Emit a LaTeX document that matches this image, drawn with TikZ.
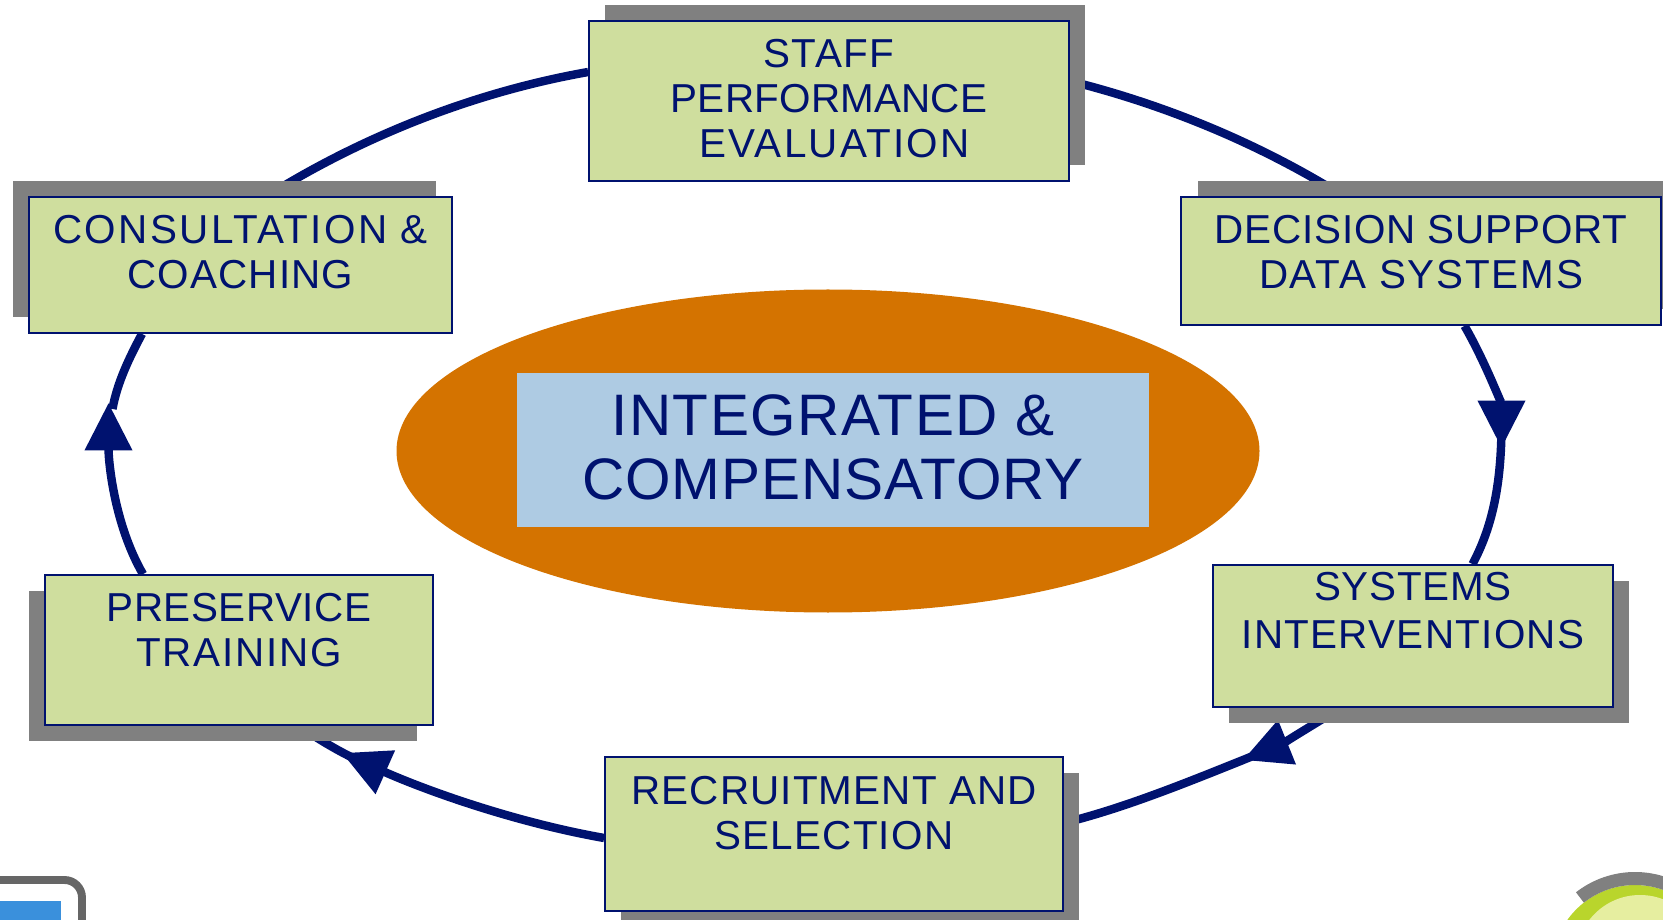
\documentclass[tikz,border=0pt]{standalone}
\usepackage{fontspec}
\setmainfont{Liberation Sans}
\usetikzlibrary{arrows.meta,shadows,backgrounds,shapes.geometric}
\definecolor{navyline}{HTML}{00126F}
\definecolor{boxgreen}{HTML}{CFDE9E}
\definecolor{ovalorange}{HTML}{D47300}
\definecolor{paleblue}{HTML}{AECBE3}
\definecolor{cornerblue}{HTML}{3A90DC}
\definecolor{cornergreen}{HTML}{B9D52C}
\definecolor{cornerlight}{HTML}{E6EEA0}
\newcommand{\spaced}[2]{{\addfontfeatures{LetterSpace=#1}#2}}
\tikzset{
  stagebox/.style n args={4}{draw=navyline,line width=1pt,fill=boxgreen,text=navyline,
    align=center,font=\fontsize{23}{25.5}\selectfont,inner sep=0pt,
    minimum width=#1cm,minimum height=#2cm,
    general shadow={fill=gray,draw=none,shadow xshift=#3cm,shadow yshift=#4cm}},
  ring/.style={draw=navyline,line width=4.8pt,looseness=.85},
  ringtip/.style={ring,-{Triangle[length=27pt,width=26pt]}},
  ringback/.style={ring,shorten <=-14pt}
}
\begin{document}
\begin{tikzpicture}
\useasboundingbox (0,0) rectangle (33.26,18.38);
\node[ellipse,fill=ovalorange,minimum width=17.26cm,minimum height=6.46cm,inner sep=0pt] (oval) at (16.56,9.36) {};
\node[fill=paleblue,text=navyline,align=center,font=\fontsize{33.3}{36.5}\selectfont,text depth=3pt,
  minimum width=12.64cm,minimum height=3.08cm,inner sep=0pt] (centre) at (16.66,9.38) {\spaced{2.6}{INTEGRATED \&}\\\spaced{1.7}{COMPENSATORY}};
\node[stagebox={9.6}{3.2}{.32}{.32},text depth=3.2pt] (staff) at (16.58,16.36) {\spaced{3.7}{STAFF}\\\spaced{.5}{PERFORMANCE}\\\ \spaced{5.5}{EVALUATION}};
\node[stagebox={9.6}{2.56}{.34}{.32},text depth=10.4pt] (decision) at (28.42,13.16) {\spaced{2}{DECISION SUPPORT}\\\spaced{4.4}{DATA SYSTEMS}};
\node[stagebox={8.46}{2.72}{-.32}{.32},text depth=14.8pt] (consult) at (4.81,13.08) {\spaced{6}{CONSULTATION \&}\\\spaced{2.8}{COACHING}};
\node[stagebox={7.76}{3.0}{-.32}{-.32},text depth=22.8pt] (preservice) at (4.78,5.38) {\spaced{1.3}{PRESERVICE}\\\spaced{4.2}{TRAINING}};
\node[stagebox={9.16}{3.08}{.32}{-.32},text depth=24pt] (recruit) at (16.68,1.70) {\spaced{2.8}{RECRUITMENT AND}\\\spaced{2.9}{SELECTION}};
\node[stagebox={8.0}{2.84}{.32}{-.32},text depth=29pt] (systems) at (28.26,5.66) {\spaced{1.9}{SYSTEMS}\\[1.5pt]\spaced{3.2}{INTERVENTIONS}};
\coordinate (tipright) at (30.03,9.42);
\coordinate (tiplow) at (24.86,3.18);
\coordinate (tipwest) at (6.84,3.32);
\coordinate (tipleft) at (2.17,10.32);
\coordinate (leftback) at (2.25,10.2);
\begin{scope}[on background layer]
\draw[ring] ([xshift=.53cm]consult.north) to[out=32,in=190] ([yshift=.58cm]staff.west);
\draw[ring] ([yshift=.40cm]staff.east) to[out=-14,in=148] ([xshift=-1.55cm]decision.north);
\draw[ringtip] ([xshift=.87cm]decision.south) to[out=-60,in=90] (tipright);
\draw[ringback] (tipright) to[out=-90,in=62] ([xshift=1.19cm]systems.north);
\draw[ringtip] ([xshift=-1.45cm]systems.south) to[out=212,in=22] (tiplow);
\draw[ringback] (tiplow) to[out=202,in=14] ([yshift=.22cm]recruit.east);
\draw[ringtip] ([yshift=-.08cm]recruit.west) to[out=170,in=-24] (tipwest);
\draw[ringback] (tipwest) to[out=155,in=-27] ([xshift=1.16cm]preservice.south);
\draw[ringtip] ([xshift=-1.92cm]preservice.north) to[out=120,in=-90] (tipleft);
\draw[ring] (leftback) to[out=80,in=242] ([xshift=-1.97cm]consult.south);
\end{scope}
\draw[line width=4.5pt,color=gray!80!black,rounded corners=.35cm] (-.3,.78) -- (1.64,.78) -- (1.64,-.3);
\fill[color=cornerblue] (-.1,-.1) rectangle (1.22,.36);
\fill[color=cornergreen] (32.7,-.98) circle (1.66);
\fill[color=cornerlight] (32.8,-.8) circle (1.28);
\draw[line width=7.4pt,color=gray] (32.7,-.98) ++(128:1.79) arc[start angle=128,end angle=60,radius=1.79];
\end{tikzpicture}
\end{document}
